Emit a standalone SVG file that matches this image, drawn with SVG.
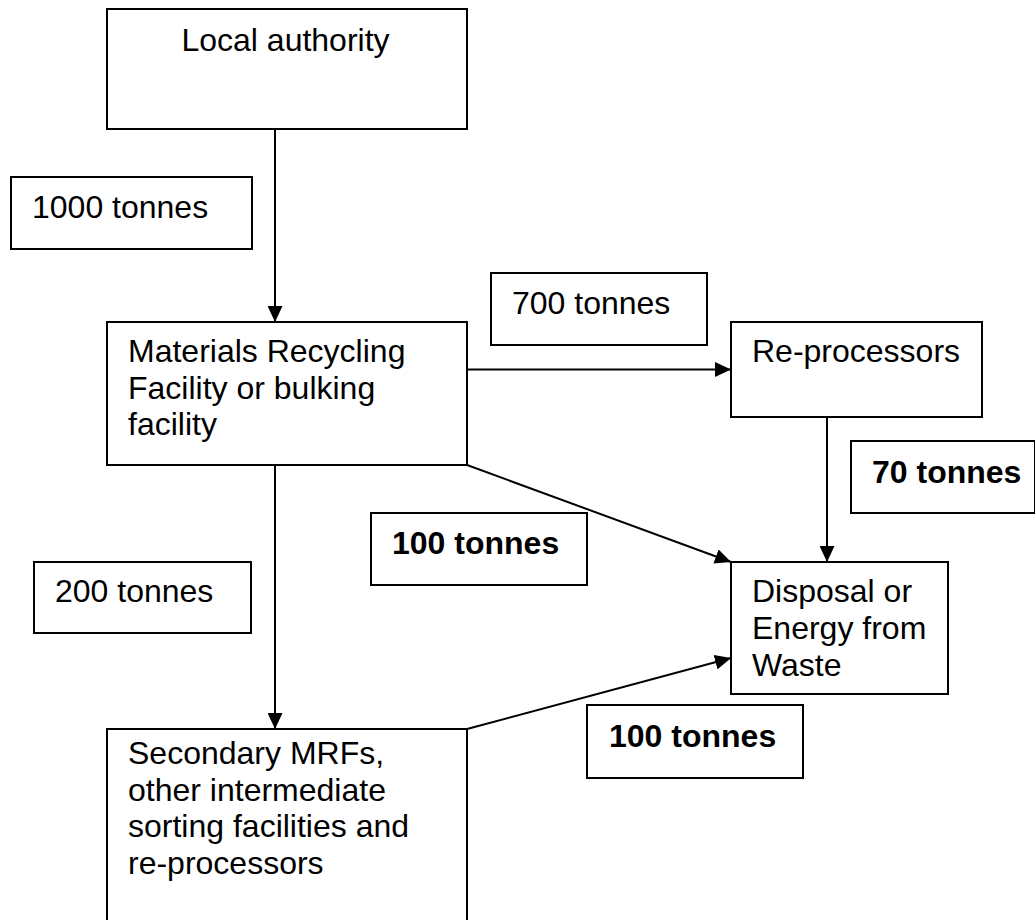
<svg xmlns="http://www.w3.org/2000/svg" width="1035" height="920" viewBox="0 0 1035 920">
  <style>
    .box { fill: #ffffff; stroke: #000000; stroke-width: 2; }
    .t { font-family: "Liberation Sans", Arial, sans-serif; font-size: 32px; fill: #000000; }
    .b { font-weight: bold; }
    .conn { stroke: #000000; stroke-width: 2; fill: none; marker-end: url(#arrow); }
  </style>
  <defs>
    <marker id="arrow" markerUnits="userSpaceOnUse" markerWidth="16" markerHeight="15" refX="16" refY="7.5" orient="auto">
      <path d="M0,0 L16,7.5 L0,15 z" fill="#000000"/>
    </marker>
  </defs>
  <rect width="1035" height="920" fill="#ffffff"/>

  <g id="connectors">
    <line class="conn" x1="275" y1="129" x2="275" y2="322"/>
    <line class="conn" x1="467" y1="369.5" x2="731" y2="369.5"/>
    <line class="conn" x1="467" y1="465" x2="731" y2="562"/>
    <line class="conn" x1="827" y1="417" x2="827" y2="562"/>
    <line class="conn" x1="275" y1="465" x2="275" y2="729"/>
    <line class="conn" x1="467" y1="729" x2="731" y2="658"/>
  </g>

  <g id="local-authority">
    <rect class="box" x="107" y="9" width="360" height="120"/>
    <text class="t" x="285.5" y="51" text-anchor="middle">Local authority</text>
  </g>

  <g id="label-1000">
    <rect class="box" x="11" y="177" width="241" height="72"/>
    <text class="t" x="32" y="218">1000 tonnes</text>
  </g>

  <g id="mrf">
    <rect class="box" x="107" y="322" width="360" height="143"/>
    <text class="t" x="128" y="362">Materials Recycling</text>
    <text class="t" x="128" y="398.5">Facility or bulking</text>
    <text class="t" x="128" y="435">facility</text>
  </g>

  <g id="label-700">
    <rect class="box" x="491" y="273" width="216" height="72"/>
    <text class="t" x="512" y="314">700 tonnes</text>
  </g>

  <g id="reprocessors">
    <rect class="box" x="731" y="322" width="251" height="95"/>
    <text class="t" x="752" y="362">Re-processors</text>
  </g>

  <g id="label-70">
    <rect class="box" x="851" y="441" width="184" height="72"/>
    <text class="t b" x="872" y="483">70 tonnes</text>
  </g>

  <g id="label-100a">
    <rect class="box" x="371" y="513" width="216" height="72"/>
    <text class="t b" x="392" y="554">100 tonnes</text>
  </g>

  <g id="disposal">
    <rect class="box" x="731" y="562" width="217" height="132"/>
    <text class="t" x="752" y="602">Disposal or</text>
    <text class="t" x="752" y="639">Energy from</text>
    <text class="t" x="752" y="676">Waste</text>
  </g>

  <g id="label-200">
    <rect class="box" x="34" y="562" width="217" height="71"/>
    <text class="t" x="55" y="602">200 tonnes</text>
  </g>

  <g id="label-100b">
    <rect class="box" x="587" y="705" width="216" height="73"/>
    <text class="t b" x="609" y="747">100 tonnes</text>
  </g>

  <g id="secondary">
    <rect class="box" x="107" y="729" width="360" height="200"/>
    <text class="t" x="128" y="764">Secondary MRFs,</text>
    <text class="t" x="128" y="800.5">other intermediate</text>
    <text class="t" x="128" y="837">sorting facilities and</text>
    <text class="t" x="128" y="873.5">re-processors</text>
  </g>
</svg>
